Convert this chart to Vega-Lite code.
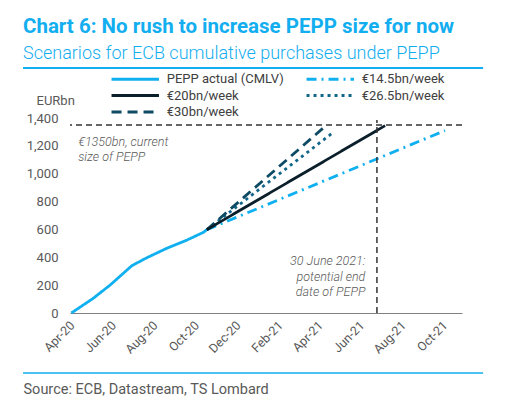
{
  "$schema": "https://vega.github.io/schema/vega-lite/v6.json",
  "width": 392,
  "height": 195,
  "autosize": {"type": "none"},
  "padding": {"left": 70, "top": 118, "right": 47, "bottom": 89},
  "background": "white",
  "resolve": {"axis": {"x": "independent", "y": "independent"}},
  "config": {
    "view": {"stroke": null},
    "font": "Roboto",
    "axis": {"grid": false, "ticks": false, "labelFont": "Roboto", "labelFontSize": 12.5, "labelColor": "#595959"},
    "legend": {
      "orient": "none",
      "legendX": 58.75,
      "legendY": -45.5,
      "columns": 2,
      "columnPadding": 15,
      "rowPadding": 2.5,
      "padding": 0,
      "symbolType": "M-5,0H5",
      "symbolSize": 90,
      "symbolStrokeWidth": 3,
      "labelOffset": 25,
      "labelFont": "Roboto",
      "labelFontSize": 13,
      "labelColor": "#404040",
      "labelLimit": 300
    }
  },
  "title": {
    "text": "Chart 6: No rush to increase PEPP size for now",
    "subtitle": "Scenarios for ECB cumulative purchases under PEPP",
    "anchor": "start",
    "frame": "group",
    "dx": -47,
    "dy": 0,
    "offset": 4,
    "font": "Roboto",
    "fontSize": 20.5,
    "fontWeight": "bold",
    "color": "#12AEEF",
    "subtitleFont": "Roboto",
    "subtitleFontSize": 18,
    "subtitleFontWeight": 300,
    "subtitleColor": "#12AEEF",
    "subtitlePadding": 7
  },
  "data": {
    "values": [
      {"series": "PEPP actual (CMLV)", "date": "2020-03-31", "value": 0},
      {"series": "PEPP actual (CMLV)", "date": "2020-05-02", "value": 105},
      {"series": "PEPP actual (CMLV)", "date": "2020-05-27", "value": 201},
      {"series": "PEPP actual (CMLV)", "date": "2020-06-28", "value": 340},
      {"series": "PEPP actual (CMLV)", "date": "2020-07-20", "value": 397},
      {"series": "PEPP actual (CMLV)", "date": "2020-08-18", "value": 464},
      {"series": "PEPP actual (CMLV)", "date": "2020-09-17", "value": 524},
      {"series": "PEPP actual (CMLV)", "date": "2020-10-11", "value": 579},
      {"series": "PEPP actual (CMLV)", "date": "2020-10-16", "value": 598},
      {"series": "€14.5bn/week", "date": "2020-10-16", "value": 598},
      {"series": "€14.5bn/week", "date": "2021-10-01", "value": 1310},
      {"series": "€26.5bn/week", "date": "2020-10-16", "value": 598},
      {"series": "€26.5bn/week", "date": "2021-04-18", "value": 1290},
      {"series": "€30bn/week", "date": "2020-10-16", "value": 598},
      {"series": "€30bn/week", "date": "2021-04-05", "value": 1328},
      {"series": "€20bn/week", "date": "2020-10-16", "value": 598},
      {"series": "€20bn/week", "date": "2021-07-05", "value": 1345}
    ]
  },
  "layer": [
    {
      "mark": {"type": "line", "strokeWidth": 2.8},
      "encoding": {
        "x": {
          "field": "date",
          "type": "temporal",
          "scale": {"domain": [{"year": 2020, "month": 3, "date": 29}, {"year": 2021, "month": 10, "date": 26}], "nice": false},
          "axis": {
            "format": "%b-%y",
            "labelAngle": -45,
            "labelAlign": "right",
            "labelBaseline": "middle",
            "labelPadding": 10,
            "labelOverlap": false,
            "labelFlush": false,
            "domainColor": "#808080",
            "domainWidth": 1,
            "values": [
              {"year": 2020, "month": 4, "date": 1},
              {"year": 2020, "month": 6, "date": 1},
              {"year": 2020, "month": 8, "date": 1},
              {"year": 2020, "month": 10, "date": 1},
              {"year": 2020, "month": 12, "date": 1},
              {"year": 2021, "month": 2, "date": 1},
              {"year": 2021, "month": 4, "date": 1},
              {"year": 2021, "month": 6, "date": 1},
              {"year": 2021, "month": 8, "date": 1},
              {"year": 2021, "month": 10, "date": 1}
            ],
            "title": "Source: ECB, Datastream, TS Lombard",
            "titleX": -47,
            "titleY": 80,
            "titleAlign": "left",
            "titleAnchor": "start",
            "titleBaseline": "alphabetic",
            "titleFont": "Roboto",
            "titleFontSize": 14.5,
            "titleFontWeight": "normal",
            "titleColor": "#595959"
          }
        },
        "y": {
          "field": "value",
          "type": "quantitative",
          "scale": {"domain": [0, 1400], "nice": false},
          "axis": {
            "values": [0, 200, 400, 600, 800, 1000, 1200, 1400],
            "format": ",.0f",
            "domain": false,
            "labelPadding": 12,
            "labelFontSize": 13,
            "title": "EURbn",
            "titleAngle": 0,
            "titleAlign": "left",
            "titleBaseline": "middle",
            "titleX": -34,
            "titleY": -18,
            "titleFont": "Roboto",
            "titleFontSize": 13,
            "titleFontWeight": "normal",
            "titleColor": "#595959"
          }
        },
        "color": {
          "field": "series",
          "type": "nominal",
          "title": null,
          "scale": {
            "domain": ["PEPP actual (CMLV)", "€20bn/week", "€30bn/week", "€14.5bn/week", "€26.5bn/week"],
            "range": ["#10B0F0", "#0B1F2B", "#0D4A63", "#10B0F0", "#11668A"]
          }
        },
        "strokeDash": {
          "field": "series",
          "type": "nominal",
          "title": null,
          "scale": {
            "domain": ["PEPP actual (CMLV)", "€20bn/week", "€30bn/week", "€14.5bn/week", "€26.5bn/week"],
            "range": [[1, 0], [1, 0], [10, 6], [10, 5, 2, 5], [3, 4]]
          }
        },
        "order": {"field": "date", "type": "temporal"}
      }
    },
    {
      "data": {"values": [{}]},
      "mark": {"type": "rule", "color": "#333333", "strokeWidth": 1.5, "strokeDash": [6, 4]},
      "encoding": {"y": {"datum": 1350, "axis": null}}
    },
    {
      "data": {"values": [{}]},
      "mark": {"type": "rule", "color": "#333333", "strokeWidth": 1.5, "strokeDash": [6, 4]},
      "encoding": {
        "x": {"datum": {"year": 2021, "month": 6, "date": 23}, "axis": null},
        "y": {"datum": 0, "axis": null},
        "y2": {"datum": 1385}
      }
    },
    {
      "data": {"values": [{}]},
      "mark": {"type": "rule", "color": "#12AEEF", "strokeWidth": 2},
      "encoding": {
        "x": {"datum": {"year": 2020, "month": 1, "date": 20}, "axis": null},
        "x2": {"datum": {"year": 2021, "month": 11, "date": 26}},
        "y": {"datum": 1759, "axis": null}
      }
    },
    {
      "data": {"values": [{}]},
      "mark": {"type": "rule", "color": "#12AEEF", "strokeWidth": 1.5},
      "encoding": {
        "x": {"datum": {"year": 2020, "month": 1, "date": 20}, "axis": null},
        "x2": {"datum": {"year": 2021, "month": 11, "date": 26}},
        "y": {"datum": -431, "axis": null}
      }
    },
    {
      "data": {"values": [{}]},
      "mark": {"type": "text", "align": "left", "baseline": "top", "font": "Roboto", "fontStyle": "italic", "fontWeight": 300, "fontSize": 12.5, "color": "#595959", "lineHeight": 15},
      "encoding": {
        "x": {"datum": {"year": 2020, "month": 4, "date": 10}, "axis": null},
        "y": {"datum": 1271, "axis": null},
        "text": {"value": ["€1350bn, current", "size of PEPP"]}
      }
    },
    {
      "data": {"values": [{}]},
      "mark": {"type": "text", "align": "right", "baseline": "top", "font": "Roboto", "fontStyle": "italic", "fontWeight": 300, "fontSize": 12.5, "color": "#595959", "lineHeight": 15.5},
      "encoding": {
        "x": {"datum": {"year": 2021, "month": 6, "date": 6}, "axis": null},
        "y": {"datum": 416, "axis": null},
        "text": {"value": ["30 June 2021:", "potential end", "date of PEPP"]}
      }
    }
  ]
}
